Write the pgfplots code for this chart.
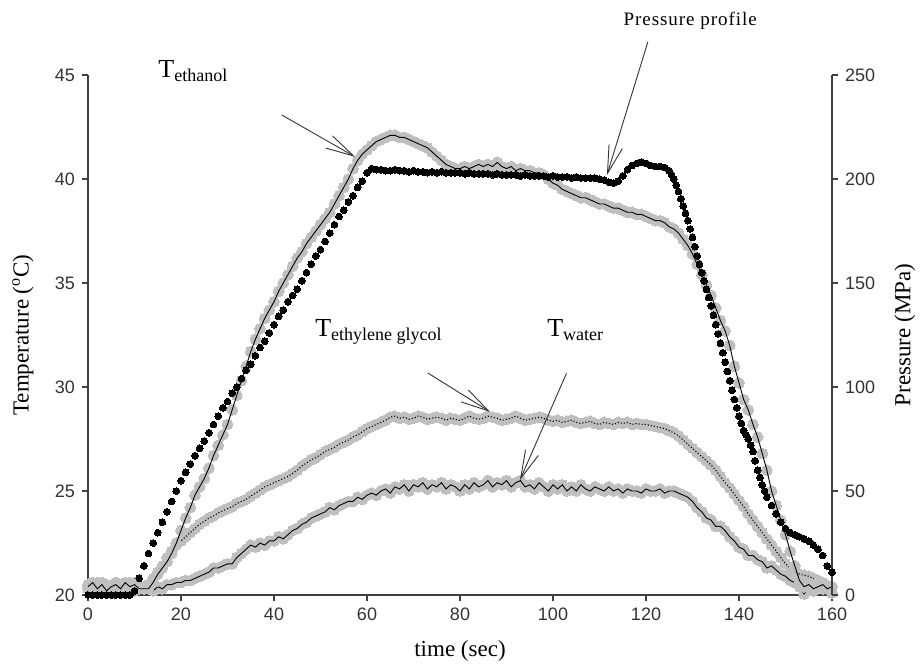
\documentclass[border=0pt]{standalone}
\usepackage{fontspec}
\setmainfont{Liberation Serif}
\newfontfamily\tickfont{Liberation Sans}
\usepackage{pgfplots}
\usepackage{pgfplotstable}
\pgfplotsset{compat=1.18}
\usetikzlibrary{arrows.meta}

% temperatures (degC): ethanol, ethylene glycol, water
\pgfplotstableread{
t eth eg wat
0 20.4 20.5 20.3
1 20.6 20.3 20.5
2 20.3 20.6 20.2
3 20.5 20.4 20.6
4 20.2 20.5 20.3
5 20.4 20.3 20.4
6 20.5 20.6 20.2
7 20.3 20.4 20.5
8 20.6 20.3 20.3
9 20.4 20.5 20.6
10 20.5 20.6 20.2
11 20.3 20.4 20.4
12 20.3 20.4 20.3
13 20.3 20.5 20.3
14 20.6 20.8 20.2
15 21.0 21.1 20.4
16 21.3 21.4 20.3
17 21.6 21.8 20.5
18 22.0 22.1 20.5
19 22.5 22.4 20.6
20 23.1 22.6 20.6
21 23.7 22.8 20.7
22 24.2 23.0 20.7
23 24.8 23.2 20.8
24 25.2 23.4 20.9
25 25.6 23.55 21.0
26 26.1 23.7 21.1
27 26.7 23.8 21.3
28 27.2 23.95 21.3
29 27.7 24.05 21.4
30 28.2 24.15 21.5
31 28.9 24.25 21.5
32 29.6 24.4 21.8
33 30.3 24.5 22.0
34 31.0 24.6 22.2
35 31.7 24.75 22.4
36 32.3 24.9 22.3
37 32.8 25.05 22.5
38 33.3 25.2 22.4
39 33.7 25.3 22.6
40 34.1 25.4 22.6
41 34.6 25.5 22.8
42 35.0 25.6 22.7
43 35.4 25.7 22.9
44 35.8 25.85 23.1
45 36.2 26.0 23.2
46 36.5 26.2 23.4
47 36.9 26.35 23.5
48 37.2 26.5 23.7
49 37.5 26.6 23.8
50 37.8 26.75 23.9
51 38.1 26.9 24.0
52 38.4 27.0 24.2
53 38.8 27.1 24.1
54 39.2 27.25 24.3
55 39.6 27.35 24.4
56 40.0 27.45 24.5
57 40.5 27.6 24.5
58 40.9 27.7 24.7
59 41.2 27.85 24.6
60 41.4 28.0 24.8
61 41.6 28.1 24.9
62 41.8 28.2 24.8
63 41.9 28.3 25.0
64 42.0 28.4 25.1
65 42.1 28.55 24.9
66 42.1 28.6 25.2
67 42.0 28.5 25.1
68 42.0 28.55 25.3
69 41.9 28.45 25.0
70 41.8 28.5 25.3
71 41.7 28.6 25.2
72 41.6 28.55 25.4
73 41.5 28.45 25.1
74 41.3 28.5 25.3
75 41.1 28.55 25.2
76 40.9 28.5 25.4
77 40.7 28.4 25.1
78 40.6 28.5 25.3
79 40.5 28.45 25.2
80 40.5 28.4 25.0
81 40.6 28.5 25.3
82 40.5 28.6 25.1
83 40.6 28.5 25.4
84 40.7 28.45 25.2
85 40.6 28.5 25.3
86 40.7 28.6 25.5
87 40.6 28.55 25.2
88 40.8 28.5 25.4
89 40.6 28.4 25.3
90 40.5 28.45 25.5
91 40.6 28.5 25.2
92 40.4 28.6 25.4
93 40.5 28.5 25.5
94 40.4 28.4 25.2
95 40.4 28.45 25.3
96 40.3 28.5 25.1
97 40.3 28.55 25.4
98 40.2 28.5 25.2
99 40.0 28.4 25.0
100 39.8 28.35 25.3
101 39.7 28.4 25.1
102 39.5 28.3 25.3
103 39.4 28.35 25.0
104 39.3 28.4 25.2
105 39.2 28.3 25.0
106 39.1 28.25 25.3
107 39.1 28.3 25.1
108 39.0 28.35 25.0
109 38.9 28.25 25.2
110 38.8 28.2 25.1
111 38.8 28.3 25.0
112 38.7 28.25 25.2
113 38.6 28.2 25.0
114 38.6 28.3 25.1
115 38.5 28.25 24.9
116 38.4 28.3 25.1
117 38.4 28.2 25.0
118 38.3 28.25 25.0
119 38.3 28.2 24.9
120 38.2 28.2 25.1
121 38.1 28.15 25.0
122 38.0 28.1 25.0
123 38.0 28.05 25.1
124 37.9 28.0 24.9
125 37.7 27.9 25.0
126 37.6 27.8 25.0
127 37.4 27.65 24.9
128 37.1 27.45 24.8
129 36.8 27.25 24.7
130 36.4 27.05 24.5
131 35.9 26.85 24.2
132 35.4 26.65 24.0
133 34.9 26.45 23.7
134 34.4 26.25 23.6
135 33.8 26.0 23.3
136 33.2 25.7 23.3
137 32.7 25.4 23.1
138 32.0 25.15 22.8
139 31.0 24.85 22.6
140 30.2 24.55 22.3
141 29.4 24.25 22.2
142 28.9 23.9 21.9
143 28.2 23.6 21.9
144 27.6 23.3 21.7
145 26.8 23.0 21.6
146 26.0 22.7 21.3
147 25.0 22.4 21.4
148 24.3 22.1 21.2
149 23.6 21.8 21.0
150 22.9 21.5 20.9
151 22.1 21.3 20.7
152 21.4 21.15 20.6
153 20.7 21.0 20.4
154 20.4 20.95 20.05
155 20.5 20.9 20.4
156 20.3 20.8 20.2
157 20.4 20.7 20.6
158 20.5 20.6 20.3
159 20.3 20.45 20.4
160 20.4 20.4 20.1
}\temps

% pressure (MPa)
\pgfplotstableread{
t p
0 0
1 0
2 0
3 0
4 0
5 0
6 0
7 0
8 0
9 0
10 2
11 8
12 14
13 20
14 25
15 30
16 35
17 40
18 45
19 50
20 55
21 59
22 63
23 67
24 70.5
25 74
26 78
27 82
28 86
29 90
30 93
31 97
32 100
33 104
34 108
35 111
36 115
37 119
38 122
39 126
40 130
41 134
42 137
43 141
44 144
45 147
46 151
47 155
48 159
49 163
50 166
51 170
52 174
53 178
54 182
55 185
56 189
57 192
58 196
59 199
60 203
61 205
62 204.5
63 204.5
64 204
65 204
66 204.5
67 204
68 204
69 203.5
70 204
71 203.5
72 203.5
73 203
74 203.5
75 203
76 203.5
77 203
78 203
79 203
80 203
81 202.5
82 203
83 202.5
84 202.5
85 202.5
86 202.5
87 202
88 202.5
89 202
90 202
91 202
92 202
93 201.5
94 202
95 201.5
96 201.5
97 201.5
98 201.5
99 201
100 201.5
101 201
102 201
103 201
104 200.5
105 201
106 200.5
107 200.5
108 200.5
109 200.5
110 200
111 199.5
112 198.5
113 198
114 199
115 201.5
116 204.5
117 206.5
118 207.5
119 208
120 207.5
121 206.5
122 206
123 206
124 205.5
125 204
125.5 202
126 200
126.5 197
127 194
127.5 190.5
128 187
128.5 183.5
129 180
129.5 176
130 172
130.5 167.5
131 163
131.5 159
132 155
132.5 151
133 147
133.5 143
134 139
134.5 134.5
135 130
135.5 125.5
136 121
136.5 116.5
137 112
137.5 107.5
138 103
138.5 98.5
139 94
139.5 90
140 86
140.5 82.5
141 79
141.5 77
142 75
142.5 72
143 69
143.5 64.5
144 60
144.5 56.5
145 53
145.5 50
146 47
147 43
148 39
149 35
150 32
151 30
152 29
153 28
154 27
155 26
156 24
157 22
158 19
159 14
160 11
}\press

\newcommand{\Tsub}[1]{{\fontsize{13}{15}\selectfont T}\raisebox{-2pt}{\fontsize{9}{11}\selectfont #1}}

\pgfplotsset{
  chartbase/.style={
    at={(0,0)}, anchor=south west,
    scale only axis, width=372pt, height=260pt,
    xmin=0, xmax=160,
    clip=false, clip marker paths=true,
    tick align=outside, major tick length=3pt,
    tick style={black!75, line width=0.6pt},
    axis line style={black!75, line width=0.6pt, -},
    ticklabel style={font=\tickfont\fontsize{9}{10}\selectfont, text=black!80},
    /pgf/number format/assume math mode=true,
  },
  graymarks/.style={only marks, mark=*, mark size=2.7pt, color=black!25,
    mark options={draw=black!25, fill=black!25, line width=0pt}},
  blackline/.style={black, mark=none, line width=0.45pt},
}
\tikzset{
  annot/.style={black!80, line width=0.45pt,
    -{Straight Barb[length=14pt, width=7pt]}},
}

\begin{document}
\begin{tikzpicture}
\useasboundingbox (-44pt,-35.5pt) rectangle (416pt,297.5pt);

\begin{axis}[chartbase,
  ymin=20, ymax=45,
  axis x line*=bottom, axis y line*=left,
  xtick={0,20,...,160}, ytick={20,25,...,45},
]
\addplot[graymarks] table[x=t, y=eg]{\temps};
\addplot[blackline, line width=0.55pt, densely dotted] table[x=t, y=eg]{\temps};
\addplot[graymarks] table[x=t, y=wat]{\temps};
\addplot[blackline] table[x=t, y=wat]{\temps};
\addplot[graymarks] table[x=t, y=eth]{\temps};
\addplot[blackline] table[x=t, y=eth]{\temps};

\node[anchor=base west, inner sep=0pt] at (axis cs:15.05,44.9) {\Tsub{ethanol}};
\node[anchor=base west, inner sep=0pt] at (axis cs:48.8,32.45) {\Tsub{ethylene glycol}};
\node[anchor=base west, inner sep=0pt] at (axis cs:98.7,32.45) {\Tsub{water}};
\node[font=\fontsize{9.5}{11}\selectfont\addfontfeatures{LetterSpace=5}] at (axis cs:129.5,47.6) {Pressure profile};

\draw[annot] (axis cs:41.65,43.08) -- (axis cs:57.42,41.07);
\draw[annot] (axis cs:120.4,46.59) -- (axis cs:111.6,40.19);
\draw[annot] (axis cs:73.1,30.67) -- (axis cs:86.45,28.81);
\draw[annot] (axis cs:102.9,30.66) -- (axis cs:92.9,25.53);

\node[rotate=90, font=\fontsize{11.5}{13}\selectfont] at (axis description cs:-0.0874,0.5) {Temperature (\textsuperscript{o}C)};
\node[font=\fontsize{11.5}{13}\selectfont] at (axis description cs:0.5,-0.108) {time (sec)};
\end{axis}

\begin{axis}[chartbase,
  ymin=0, ymax=250,
  axis x line=none, axis y line*=right,
  ytick={0,50,...,250},
]
\addplot[only marks, mark=*, mark size=1.7pt, color=black, mark options={draw=black, fill=black, line width=0pt}] table[x=t, y=p]{\press};
\node[rotate=90, font=\fontsize{11.5}{13}\selectfont] at (axis description cs:1.098,0.5) {Pressure (MPa)};
\end{axis}
\end{tikzpicture}
\end{document}
